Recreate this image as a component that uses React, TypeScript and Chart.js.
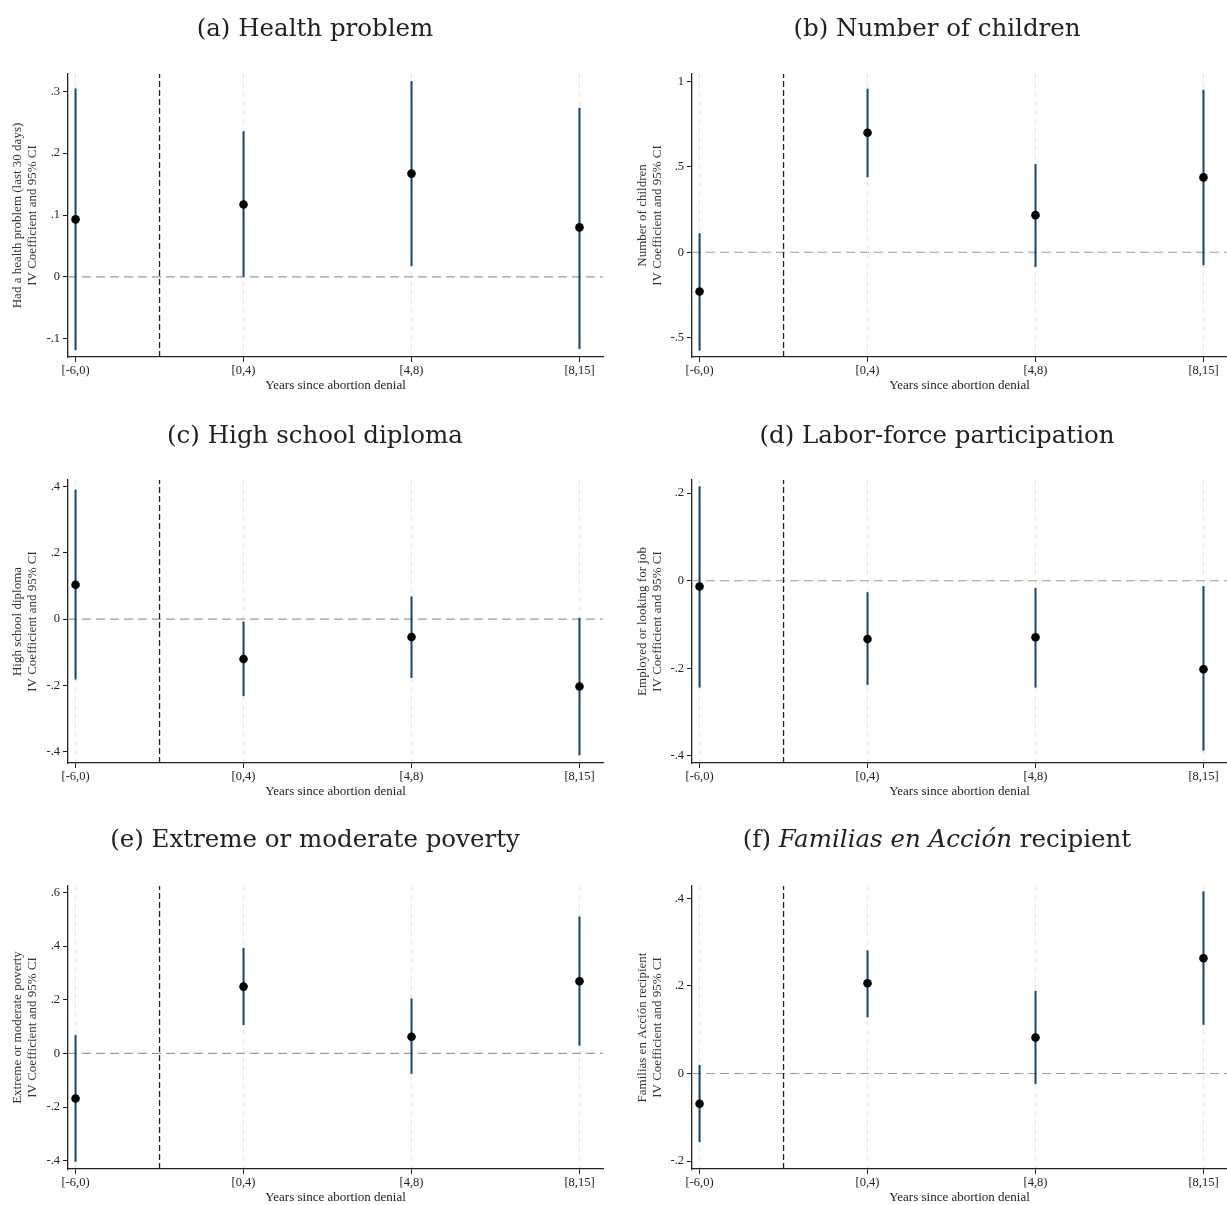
import React, { useEffect, useRef } from "react";
import { Chart, registerables } from "chart.js";

Chart.register(...registerables);

// ---------- shared data ----------
const categories = ["[-6,0)", "[0,4)", "[4,8)", "[8,15]"];
const xAxisTitle = "Years since abortion denial";
const ciLine = "IV Coefficient and 95% CI";
const xRange = [-0.045, 3.14];
const cutoffX = 0.5;

// (a) Health problem
const healthTitle = [{ text: "(a) Health problem", italic: false }];
const healthLabel = "Had a health problem (last 30 days)";
const healthCoef = [0.093, 0.117, 0.167, 0.08];
const healthLo = [-0.118, 0.0, 0.018, -0.116];
const healthHi = [0.304, 0.235, 0.316, 0.273];
const healthTicks = [-0.1, 0, 0.1, 0.2, 0.3];
const healthTickLabels = ["-.1", "0", ".1", ".2", ".3"];
const healthRange = [-0.1295, 0.328];

// (b) Number of children
const childTitle = [{ text: "(b) Number of children", italic: false }];
const childLabel = "Number of children";
const childCoef = [-0.23, 0.699, 0.217, 0.438];
const childLo = [-0.574, 0.441, -0.084, -0.074];
const childHi = [0.11, 0.955, 0.514, 0.949];
const childTicks = [-0.5, 0, 0.5, 1];
const childTickLabels = ["-.5", "0", ".5", "1"];
const childRange = [-0.613, 1.043];

// (c) High school diploma
const schoolTitle = [{ text: "(c) High school diploma", italic: false }];
const schoolLabel = "High school diploma";
const schoolCoef = [0.104, -0.12, -0.054, -0.203];
const schoolLo = [-0.181, -0.231, -0.176, -0.41];
const schoolHi = [0.39, -0.008, 0.068, 0.003];
const schoolTicks = [-0.4, -0.2, 0, 0.2, 0.4];
const schoolTickLabels = ["-.4", "-.2", "0", ".2", ".4"];
const schoolRange = [-0.434, 0.42];

// (d) Labor-force participation
const laborTitle = [{ text: "(d) Labor-force participation", italic: false }];
const laborLabel = "Employed or looking for job";
const laborCoef = [-0.013, -0.133, -0.129, -0.202];
const laborLo = [-0.243, -0.237, -0.243, -0.387];
const laborHi = [0.215, -0.027, -0.017, -0.013];
const laborTicks = [-0.4, -0.2, 0, 0.2];
const laborTickLabels = ["-.4", "-.2", "0", ".2"];
const laborRange = [-0.416, 0.23];

// (e) Extreme or moderate poverty
const povertyTitle = [{ text: "(e) Extreme or moderate poverty", italic: false }];
const povertyLabel = "Extreme or moderate poverty";
const povertyCoef = [-0.168, 0.249, 0.062, 0.269];
const povertyLo = [-0.403, 0.107, -0.075, 0.03];
const povertyHi = [0.067, 0.392, 0.203, 0.509];
const povertyTicks = [-0.4, -0.2, 0, 0.2, 0.4, 0.6];
const povertyTickLabels = ["-.4", "-.2", "0", ".2", ".4", ".6"];
const povertyRange = [-0.431, 0.624];

// (f) Familias en Acción recipient
const familiasTitle = [
  { text: "(f) ", italic: false },
  { text: "Familias en Acción", italic: true },
  { text: " recipient", italic: false },
];
const familiasLabel = "Familias en Acción recipient";
const familiasCoef = [-0.069, 0.206, 0.082, 0.263];
const familiasLo = [-0.156, 0.129, -0.023, 0.112];
const familiasHi = [0.019, 0.28, 0.188, 0.415];
const familiasTicks = [-0.2, 0, 0.2, 0.4];
const familiasTickLabels = ["-.2", "0", ".2", ".4"];
const familiasRange = [-0.218, 0.428];

const panels = [
  { title: healthTitle, label: healthLabel, coef: healthCoef, lo: healthLo, hi: healthHi, ticks: healthTicks, tickLabels: healthTickLabels, range: healthRange },
  { title: childTitle, label: childLabel, coef: childCoef, lo: childLo, hi: childHi, ticks: childTicks, tickLabels: childTickLabels, range: childRange },
  { title: schoolTitle, label: schoolLabel, coef: schoolCoef, lo: schoolLo, hi: schoolHi, ticks: schoolTicks, tickLabels: schoolTickLabels, range: schoolRange },
  { title: laborTitle, label: laborLabel, coef: laborCoef, lo: laborLo, hi: laborHi, ticks: laborTicks, tickLabels: laborTickLabels, range: laborRange },
  { title: povertyTitle, label: povertyLabel, coef: povertyCoef, lo: povertyLo, hi: povertyHi, ticks: povertyTicks, tickLabels: povertyTickLabels, range: povertyRange },
  { title: familiasTitle, label: familiasLabel, coef: familiasCoef, lo: familiasLo, hi: familiasHi, ticks: familiasTicks, tickLabels: familiasTickLabels, range: familiasRange },
];

// ---------- layout / style ----------
const SMALL = "'Liberation Serif', 'Times New Roman', serif";
const TITLE_FONT = "'DejaVu Serif', serif";
const TEXT = "#222";
const CI_COLOR = "#1a476f";
// chart area wanted: left col 68..603, right col 692..1227 (page px)
const COLS = [
  { left: 0, width: 613, axisW: 68, areaRight: 603, titleCx: 315, yTitlePad: 10.9 },
  { left: 613, width: 630, axisW: 79, areaRight: 1227, titleCx: 324, yTitlePad: 22.9 },
];
const ROW_TOPS = [0, 406, 812];
const ROW_TITLE_Y = [30, 31, 29];
const PANEL_H = 400;

const titlePlugin = {
  id: "panelTitle",
  afterDraw(chart: any, _args: any, opts: any) {
    const ctx = chart.ctx;
    const segs = opts.segments || [];
    const size = opts.size || 24;
    ctx.save();
    ctx.fillStyle = TEXT;
    ctx.textBaseline = "middle";
    ctx.textAlign = "left";
    const fontFor = (s: any) => `${s.italic ? "italic " : ""}${size}px ${TITLE_FONT}`;
    let total = 0;
    for (const s of segs) {
      ctx.font = fontFor(s);
      total += ctx.measureText(s.text).width;
    }
    let x = opts.cx - total / 2;
    for (const s of segs) {
      ctx.font = fontFor(s);
      ctx.fillText(s.text, x, opts.cy);
      x += ctx.measureText(s.text).width;
    }
    ctx.restore();
  },
};

function Panel({ p, col, row }: { p: any; col: number; row: number }) {
  const ref = useRef<HTMLCanvasElement>(null);
  const L = COLS[col];
  const padRight = L.left + L.width - L.areaRight;
  useEffect(() => {
    const ciData = p.coef.map((_: number, i: number) => ({ x: i, y: [p.lo[i], p.hi[i]] }));
    const ptData = p.coef.map((c: number, i: number) => ({ x: i, y: c }));
    const chart = new Chart(ref.current as HTMLCanvasElement, {
      type: "scatter",
      data: {
        datasets: [
          {
            type: "scatter",
            data: ptData,
            pointRadius: 4.3,
            pointBackgroundColor: "#000",
            pointBorderWidth: 0,
            pointBorderColor: "#000",
            order: 0,
          } as any,
          {
            type: "bar",
            data: ciData,
            backgroundColor: CI_COLOR,
            barThickness: 1.4,
            borderWidth: 0,
            grouped: false,
            order: 1,
          } as any,
          {
            type: "line",
            data: [
              { x: cutoffX, y: p.range[0] },
              { x: cutoffX, y: p.range[1] },
            ],
            borderColor: "#222",
            borderWidth: 1.3,
            borderDash: [6, 3],
            pointRadius: 0,
            order: 2,
          } as any,
          {
            type: "line",
            data: [
              { x: xRange[0], y: 0 },
              { x: xRange[1], y: 0 },
            ],
            borderColor: "#9a9a9a",
            borderWidth: 1.2,
            borderDash: [9, 5],
            pointRadius: 0,
            order: 3,
          } as any,
        ],
      },
      options: {
        responsive: false,
        maintainAspectRatio: false,
        devicePixelRatio: 1,
        animation: false,
        events: [],
        layout: { padding: { top: 74, left: 0, right: padRight, bottom: 0 } },
        plugins: {
          legend: { display: false },
          title: { display: false },
          tooltip: { enabled: false },
          panelTitle: { segments: p.title, cx: L.titleCx, cy: ROW_TITLE_Y[row], size: 24.5 },
        } as any,
        scales: {
          x: {
            type: "linear",
            min: xRange[0],
            max: xRange[1],
            offset: false,
            bounds: "data",
            afterBuildTicks: (s: any) => {
              s.ticks = categories.map((_, i) => ({ value: i }));
            },
            afterFit: (s: any) => {
              s.height = PANEL_H - 357;
              s.paddingLeft = 0;
              s.paddingRight = 0;
            },
            ticks: {
              callback: (v: any) => categories[Math.round(Number(v))] ?? "",
              font: { family: SMALL, size: 12.5 },
              color: TEXT,
              padding: 1,
              maxRotation: 0,
              autoSkip: false,
            },
            grid: {
              display: true,
              drawOnChartArea: true,
              color: "#e3e3e3",
              lineWidth: 1,
              drawTicks: true,
              tickLength: 5,
              tickColor: TEXT,
              tickWidth: 1,
              offset: false,
            },
            border: { display: true, color: TEXT, width: 1.3, dash: [5, 4] },
            title: {
              display: true,
              text: xAxisTitle,
              font: { family: SMALL, size: 13 },
              color: TEXT,
              padding: { top: 0, bottom: 6.2 },
            },
          } as any,
          y: {
            type: "linear",
            min: p.range[0],
            max: p.range[1],
            bounds: "data",
            afterBuildTicks: (s: any) => {
              s.ticks = p.ticks.map((v: number) => ({ value: v }));
            },
            afterFit: (s: any) => {
              s.width = L.axisW;
              s.paddingTop = 0;
              s.paddingBottom = 0;
            },
            ticks: {
              callback: (v: any) => {
                const i = p.ticks.findIndex((t: number) => Math.abs(t - Number(v)) < 1e-9);
                return i >= 0 ? p.tickLabels[i] : "";
              },
              font: { family: SMALL, size: 12.5 },
              color: TEXT,
              padding: 3,
              autoSkip: false,
            },
            grid: {
              display: true,
              drawOnChartArea: false,
              drawTicks: true,
              tickLength: 5,
              tickColor: TEXT,
              tickWidth: 1,
            },
            border: { display: true, color: TEXT, width: 1.3 },
            title: {
              display: true,
              text: [p.label, ciLine],
              font: { family: SMALL, size: 13, lineHeight: 1.1 },
              color: "#333",
              padding: { top: L.yTitlePad, bottom: 0 },
            },
          } as any,
        },
      },
      plugins: [titlePlugin as any],
    });
    return () => chart.destroy();
  }, []);
  return (
    <canvas
      ref={ref}
      width={L.width}
      height={PANEL_H}
      style={{
        position: "absolute",
        left: L.left,
        top: ROW_TOPS[row],
        width: L.width,
        height: PANEL_H,
      }}
    />
  );
}

export default function App() {
  return (
    <div
      style={{
        position: "absolute",
        left: 0,
        top: 0,
        width: 1227,
        height: 1205,
        overflow: "hidden",
        background: "#fff",
      }}
    >
      {panels.map((p, k) => (
        <Panel key={k} p={p} col={k % 2} row={Math.floor(k / 2)} />
      ))}
    </div>
  );
}
